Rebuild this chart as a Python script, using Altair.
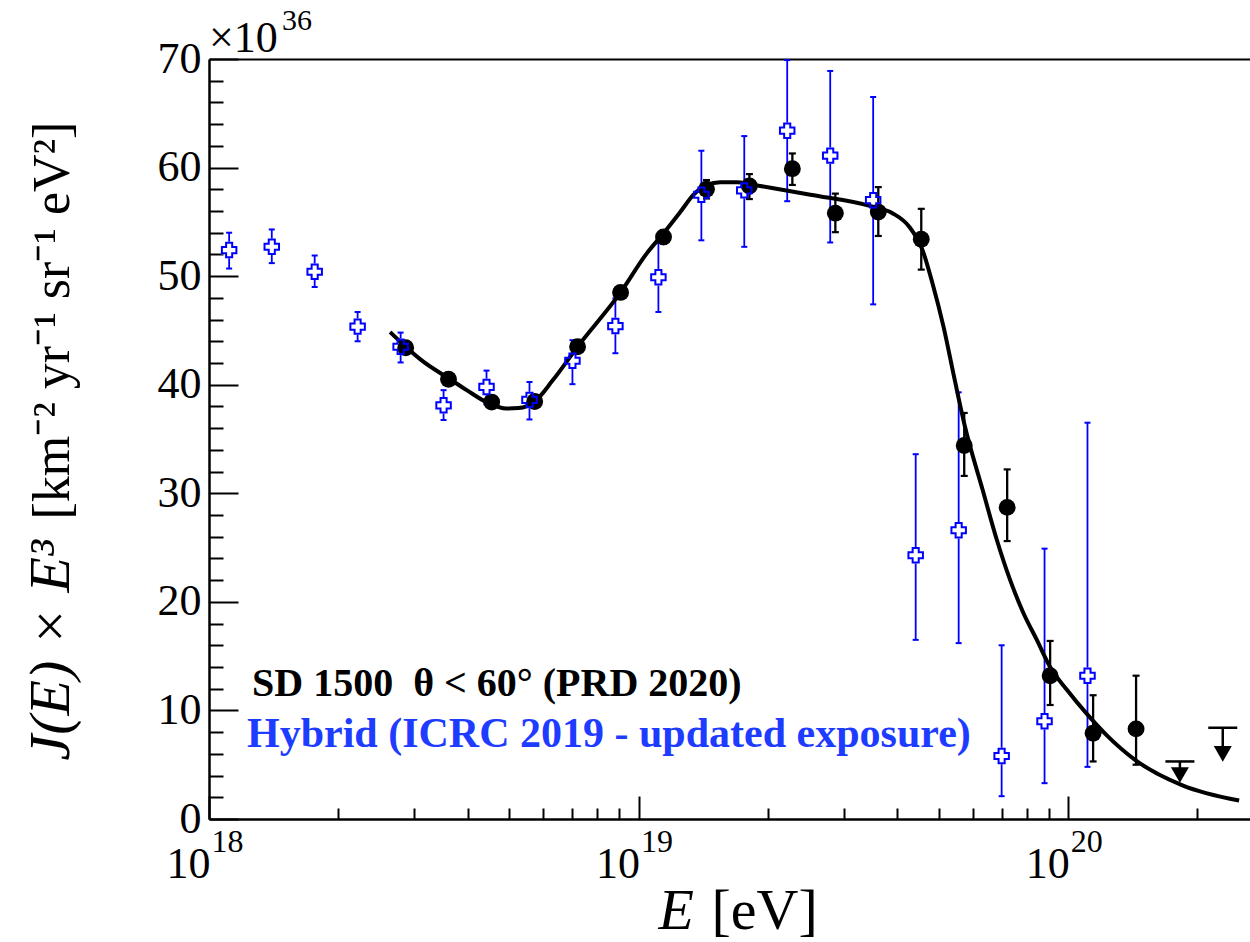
import altair as alt
import pandas as pd

FONT = "Liberation Serif"
BLUE = "#0000ff"
BLUE_TXT = "#1e3cff"

# ---------------- data ----------------
# SD 1500 (black dots)
sd_E = [2.87e18, 3.61e18, 4.55e18, 5.73e18, 7.21e18, 9.08e18, 1.143e19, 1.439e19, 1.811e19,
        2.280e19, 2.871e19, 3.614e19, 4.550e19, 5.728e19, 7.211e19, 9.078e19, 1.143e20, 1.439e20]
sd_J = [43.4, 40.5, 38.4, 38.45, 43.5, 48.5, 53.6, 58.0, 58.3,
        59.9, 55.8, 55.9, 53.4, 34.4, 28.7, 13.2, 7.9, 8.3]
sd_lo = [43.1, 40.2, 38.05, 38.05, 43.05, 48.0, 53.0, 57.15, 57.1,
         58.4, 54.05, 53.7, 50.6, 31.6, 25.6, 10.5, 5.3, 5.0]
sd_hi = [43.7, 40.8, 38.75, 38.85, 43.95, 49.0, 54.2, 58.85, 59.4,
         61.3, 57.6, 58.2, 56.2, 37.4, 32.2, 16.4, 11.4, 13.2]

# SD upper limits
ul_E = [1.82e20, 2.29e20]
ul_J = [5.3, 8.4]
ul_arrow = [4.05, 6.0]

# Hybrid (blue open crosses)
hy_E = [1.114e18, 1.400e18, 1.762e18, 2.218e18, 2.793e18, 3.516e18, 4.426e18, 5.572e18, 7.015e18,
        8.831e18, 1.112e19, 1.400e19, 1.762e19, 2.218e19, 2.793e19, 3.516e19, 4.416e19, 5.56e19,
        7.00e19, 8.81e19, 1.109e20]
hy_J = [52.4, 52.7, 50.4, 45.35, 43.5, 38.1, 39.8, 38.6, 42.2,
        45.4, 49.9, 57.5, 57.9, 63.4, 61.1, 57.0, 24.3, 26.6,
        5.8, 9.0, 13.2]
hy_lo = [50.7, 51.2, 49.0, 44.0, 42.05, 36.75, 38.2, 36.8, 40.05,
         42.9, 46.7, 53.3, 52.7, 56.9, 53.1, 47.4, 16.5, 16.2,
         2.1, 3.3, 4.8]
hy_hi = [54.0, 54.3, 51.9, 46.7, 44.8, 39.5, 41.3, 40.25, 44.1,
         47.95, 53.1, 61.55, 62.9, 69.9, 68.9, 66.5, 33.6, 39.3,
         16.0, 24.9, 36.5]

# fitted curve
fit_E = [2.64e18, 2.87e18, 3.16e18, 3.61e18, 3.98e18, 4.47e18, 4.92e18, 5.25e18, 5.73e18,
         6.31e18, 7.21e18, 9.08e18, 1.045e19, 1.143e19, 1.250e19, 1.343e19, 1.442e19, 1.549e19,
         1.694e19, 1.820e19, 2.061e19, 2.512e19, 3.508e19, 3.899e19, 4.266e19, 4.581e19, 4.842e19,
         5.129e19, 5.433e19, 5.754e19, 6.324e19, 6.823e19, 7.328e19, 7.870e19, 8.453e19, 9.078e19,
         9.931e19, 1.104e20, 1.230e20, 1.436e20, 1.845e20, 2.500e20]
fit_J = [44.85, 43.5, 42.1, 40.6, 39.5, 38.3, 37.8, 37.85, 38.45,
         40.4, 43.5, 48.5, 52.1, 53.95, 55.9, 57.5, 58.4, 58.65,
         58.65, 58.45, 58.1, 57.5, 56.4, 55.8, 54.55, 52.4, 49.2,
         45.3, 40.6, 36.1, 30.3, 25.7, 22.0, 18.95, 16.5, 14.0,
         11.9, 9.7, 7.7, 5.4, 3.1, 1.7]

# axes
x_major = [1e18, 1e19, 1e20]
x_major_base = ["10", "10", "10"]
x_major_exp = ["18", "19", "20"]
x_minor = [2e18, 3e18, 4e18, 5e18, 6e18, 7e18, 8e18, 9e18,
           2e19, 3e19, 4e19, 5e19, 6e19, 7e19, 8e19, 9e19, 2e20]
y_major = [0, 10, 20, 30, 40, 50, 60, 70]
y_minor = [2, 4, 6, 8, 12, 14, 16, 18, 22, 24, 26, 28, 32, 34, 36, 38,
           42, 44, 46, 48, 52, 54, 56, 58, 62, 64, 66, 68]

x_title = ["E", "[eV]"]
y_title = ["J(E) × E³", "[km⁻² yr⁻¹ sr⁻¹ eV²]"]
multiplier = ["×10", "36"]
legend_lines = ["SD 1500\u00a0\u00a0θ < 60° (PRD 2020)", "Hybrid (ICRC 2019 - updated exposure)"]

# ---------------- frames ----------------
sd = pd.DataFrame({"E": sd_E, "J": sd_J, "lo": sd_lo, "hi": sd_hi})
hy = pd.DataFrame({"E": hy_E, "J": hy_J, "lo": hy_lo, "hi": hy_hi})
ul = pd.DataFrame({"E": ul_E, "J": ul_J, "arrow": ul_arrow})
fit = pd.DataFrame({"E": fit_E, "J": fit_J})
one = pd.DataFrame({"k": [0]})

W, H = 1041, 760
XS = alt.Scale(type="log", domain=[1e18, 2.65e20], nice=False)
YS = alt.Scale(domain=[0, 70], nice=False, zero=False)

def lab_expr(vals, labs):
    s = "''"
    for v, l in reversed(list(zip(vals, labs))):
        s = f"datum.value == {v!r} ? '{l}' : ({s})"
    return s

common = dict(grid=False, labelFont=FONT, titleFont=FONT, labelColor="black", titleColor="black",
              labelFlush=False, labelOverlap=False)

ax_x_base = alt.Axis(orient="bottom", values=x_major, labelExpr=lab_expr(x_major, x_major_base),
                     ticks=False, domain=True, domainColor="black", domainWidth=2.5,
                     labelFontSize=44, labelAlign="right", labelOffset=1, labelBaseline="alphabetic",
                     labelPadding=58, title=x_title[0], titleFontSize=58, titleFontStyle="italic",
                     titleFontWeight="normal", titleX=449, titleY=109, titleAlign="left",
                     titleBaseline="alphabetic", **common)
ax_x_exp = alt.Axis(orient="bottom", values=x_major, labelExpr=lab_expr(x_major, x_major_exp),
                    ticks=False, domain=False, labelFontSize=32, labelAlign="left", labelOffset=2,
                    labelBaseline="alphabetic", labelPadding=32, title=x_title[1], titleFontSize=58,
                    titleFontWeight="normal", titleX=502, titleY=109, titleAlign="left",
                    titleBaseline="alphabetic", **common)
ax_x_major = alt.Axis(orient="top", offset=-H, values=x_major, ticks=True, tickSize=23, tickWidth=2,
                      tickColor="black", labels=False, domain=False, title=None, grid=False)
ax_x_minor = alt.Axis(orient="top", offset=-H, values=x_minor, ticks=True, tickSize=11, tickWidth=2,
                      tickColor="black", labels=False, domain=False, title=None, grid=False)
ax_x_top = alt.Axis(orient="top", values=x_major, ticks=False, labels=False, domain=True,
                    domainColor="black", domainWidth=2, title=None, grid=False)

ax_y_lab = alt.Axis(orient="left", values=y_major, ticks=False, domain=True, domainColor="black",
                    domainWidth=2.5, labelFontSize=44, labelPadding=8, labelBaseline="middle",
                    labelAlign="right", title=y_title[0], titleAngle=270, titleX=-141, titleY=701,
                    titleAlign="left", titleBaseline="alphabetic", titleFontStyle="italic",
                    titleFontWeight="normal", titleFontSize=58, **common)
ax_y_major = alt.Axis(orient="right", offset=-W, values=y_major, ticks=True, tickSize=29, tickWidth=2,
                      tickColor="black", labels=False, domain=False, grid=False,
                      title=y_title[1], titleAngle=270, titleX=-141, titleY=460, titleAlign="left",
                      titleBaseline="alphabetic", titleFont=FONT, titleFontWeight="normal",
                      titleFontSize=52, titleColor="black")
ax_y_minor = alt.Axis(orient="right", offset=-W, values=y_minor, ticks=True, tickSize=14, tickWidth=2,
                      tickColor="black", labels=False, domain=False, grid=False, title=None)

def X(axis=None):
    return alt.X("E:Q", scale=XS, axis=axis)

def Y(field="J", axis=None):
    return alt.Y(f"{field}:Q", scale=YS, axis=axis)

CROSS = ("M-1,-0.42L-0.42,-0.42L-0.42,-1L0.42,-1L0.42,-0.42L1,-0.42L1,0.42L0.42,0.42"
         "L0.42,1L-0.42,1L-0.42,0.42L-1,0.42Z")

hy_bars = alt.Chart(hy).mark_rule(color=BLUE, strokeWidth=1.8).encode(
    x=X(ax_x_exp), y=Y("lo", ax_y_major), y2="hi:Q")
hy_cap_lo = alt.Chart(hy).mark_tick(orient="horizontal", size=6, thickness=2, color=BLUE, opacity=1).encode(
    x=X(ax_x_major), y=Y("lo", ax_y_minor))
hy_cap_hi = alt.Chart(hy).mark_tick(orient="horizontal", size=6, thickness=2, color=BLUE, opacity=1).encode(
    x=X(ax_x_minor), y=Y("hi"))
hy_white = alt.Chart(hy).mark_point(shape=CROSS, size=210, filled=True, fill="white", stroke="white",
                                    strokeWidth=2, opacity=1).encode(x=X(ax_x_top), y=Y())
curve = alt.Chart(fit).mark_line(color="black", strokeWidth=4, interpolate="monotone").encode(
    x=X(ax_x_base), y=Y("J", ax_y_lab))
sd_bars = alt.Chart(sd).mark_rule(color="black", strokeWidth=2.3).encode(x=X(), y=Y("lo"), y2="hi:Q")
sd_cap_lo = alt.Chart(sd).mark_tick(orient="horizontal", size=7, thickness=2.2, color="black", opacity=1).encode(
    x=X(), y=Y("lo"))
sd_cap_hi = alt.Chart(sd).mark_tick(orient="horizontal", size=7, thickness=2.2, color="black", opacity=1).encode(
    x=X(), y=Y("hi"))
sd_pts = alt.Chart(sd).mark_circle(size=285, color="black", opacity=1).encode(x=X(), y=Y())
hy_pts = alt.Chart(hy).mark_point(shape=CROSS, size=210, filled=False, stroke=BLUE, strokeWidth=2,
                                  opacity=1).encode(x=X(), y=Y())
ul_bar = alt.Chart(ul).mark_tick(orient="horizontal", size=29, thickness=2.5, color="black", opacity=1).encode(
    x=X(), y=Y())
ul_line = alt.Chart(ul).mark_rule(color="black", strokeWidth=2.5).encode(x=X(), y=Y(), y2="arrow:Q")
ul_head = alt.Chart(ul).mark_point(shape="triangle-down", size=324, filled=True, color="black",
                                   opacity=1).encode(x=X(), y=Y("arrow"))

mult_base = alt.Chart(one).mark_text(text=multiplier[0], font=FONT, fontSize=44, align="left",
                                     baseline="alphabetic", color="black").encode(
    x=alt.value(0), y=alt.value(-7))
mult_exp = alt.Chart(one).mark_text(text=multiplier[1], font=FONT, fontSize=30, align="left",
                                    baseline="alphabetic", color="black").encode(
    x=alt.value(73), y=alt.value(-29))
leg1 = alt.Chart(one).mark_text(text=legend_lines[0], font=FONT, fontSize=40, fontWeight="bold",
                                align="left", baseline="alphabetic", color="black").encode(
    x=alt.value(43), y=alt.value(637))
leg2 = alt.Chart(one).mark_text(text=legend_lines[1], font=FONT, fontSize=42, fontWeight="bold",
                                align="left", baseline="alphabetic", color=BLUE_TXT).encode(
    x=alt.value(38), y=alt.value(688))

chart = alt.layer(
    hy_bars, hy_cap_lo, hy_cap_hi, hy_white, curve, sd_bars, sd_cap_lo, sd_cap_hi, sd_pts,
    hy_pts, ul_bar, ul_line, ul_head, mult_base, mult_exp, leg1, leg2
).resolve_axis(x="independent", y="independent").properties(
    width=W, height=H,
    padding={"left": 209, "top": 59, "right": 0, "bottom": 123},
    autosize=alt.AutoSizeParams(type="none"),
    background="white",
).configure_view(stroke=None)

chart.save("out.html", embed_options={"renderer": "svg", "actions": False})
